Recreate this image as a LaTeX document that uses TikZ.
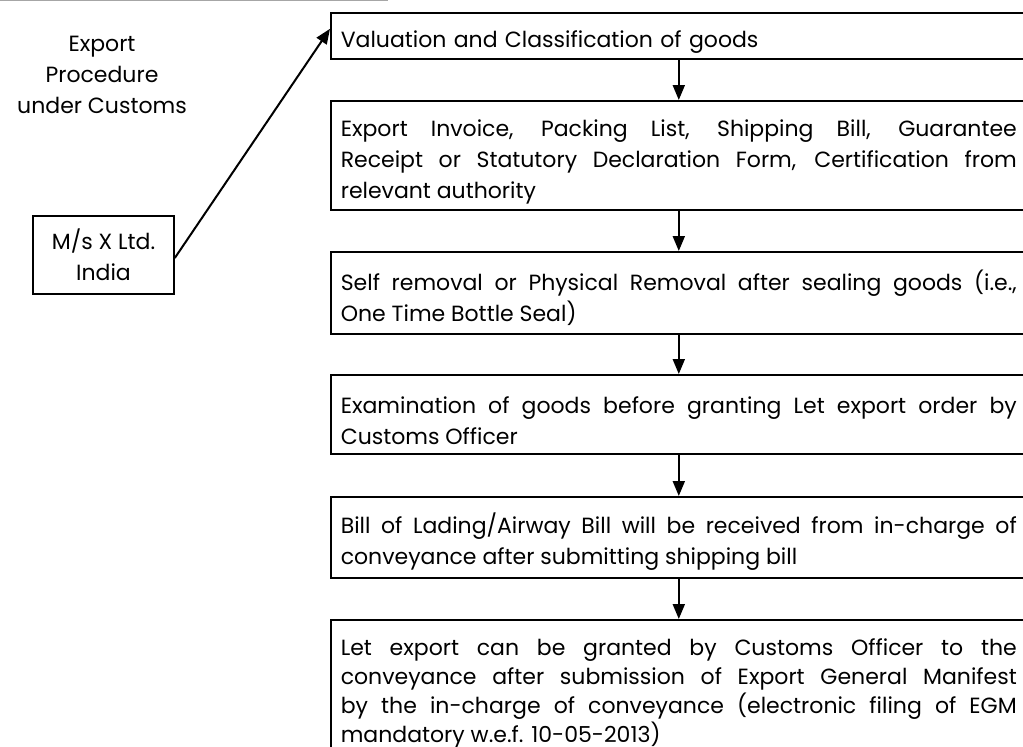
\documentclass[tikz,border=0pt]{standalone}
\usepackage{fontspec}
\setmainfont{Poppins}
\usetikzlibrary{arrows.meta}
\newcommand\bfs{\fontsize{22}{31}\selectfont}
\newcommand\tightfs{\fontsize{22}{29}\selectfont}
\newcommand\topstrut{\rule{0pt}{30pt}}
\newcommand\lowstrut{\rule{0pt}{26pt}}
\begin{document}
\begin{tikzpicture}[x=1pt,y=1pt,
  box/.style={draw,line width=1.6pt,anchor=north west,inner xsep=10pt,inner ysep=0pt,
    text width=676pt,align=justify,font=\bfs,execute at begin node={\topstrut}},
  lastbox/.style={box,font=\tightfs,execute at begin node={\lowstrut}},
  arr/.style={line width=2pt,-{Triangle[width=12pt,length=15pt]}},
  lbl/.style={align=center,font=\bfs}]
\useasboundingbox (0,0) rectangle (1023,-747);
\clip (0,0) rectangle (1023,-747);
\draw[gray!70,line width=2pt] (0,0) -- (388,0);

\node[box,align=left,minimum height=46pt] (b1) at (330,-12) {Valuation and Classification of goods};
\node[box,minimum height=109pt] (b2) at (330,-100) {Export Invoice, Packing List, Shipping Bill, Guarantee\linebreak Receipt or Statutory Declaration Form, Certification from\linebreak relevant authority};
\node[box,minimum height=82pt] (b3) at (330,-251) {Self removal or Physical Removal after sealing goods (i.e.,\linebreak One Time Bottle Seal)};
\node[box,minimum height=79pt] (b4) at (330,-374) {Examination of goods before granting Let export order by\linebreak Customs Officer};
\node[box,minimum height=81pt] (b5) at (330,-496) {Bill of Lading/Airway Bill will be received from in-charge of\linebreak conveyance after submitting shipping bill};
\node[lastbox,minimum height=135pt] (b6) at (330,-619) {Let export can be granted by Customs Officer to the\linebreak conveyance after submission of Export General Manifest\linebreak by the in-charge of conveyance (electronic filing of EGM\linebreak mandatory w.e.f. 10-05-2013)};

\node[lbl] (title) at (102,-75) {Export\\Procedure\\under Customs};
\node[lbl,draw,line width=1.6pt,minimum width=141pt,minimum height=78pt] (ms) at (103.5,-255) {M/s X Ltd.\\India};

\draw[arr] (b1.south) -- (b2.north);
\draw[arr] (b2.south) -- (b3.north);
\draw[arr] (b3.south) -- (b4.north);
\draw[arr] (b4.south) -- (b5.north);
\draw[arr] (b5.south) -- (b6.north);
\draw[arr] ([yshift=-3pt]ms.east) -- ([yshift=7pt]b1.west);
\end{tikzpicture}
\end{document}
